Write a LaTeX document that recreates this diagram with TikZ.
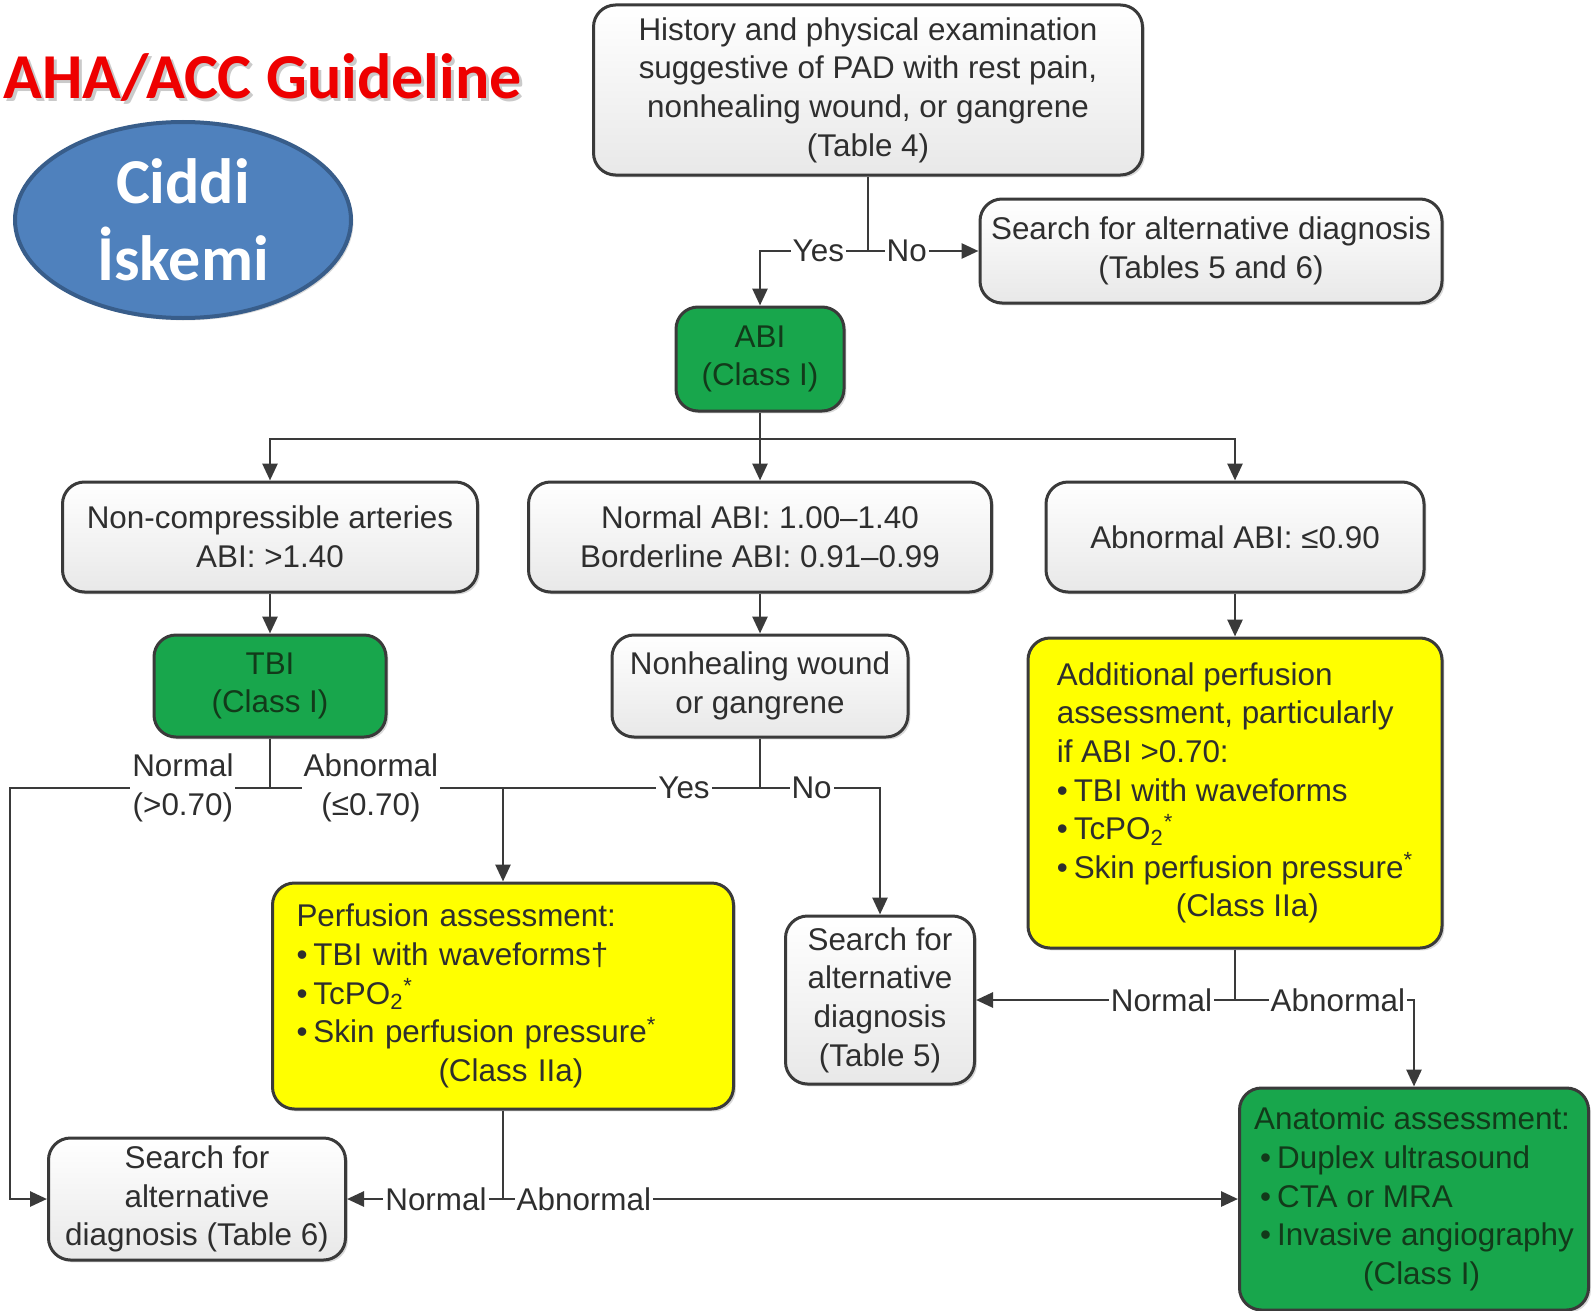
\documentclass[tikz,border=0pt]{standalone}
\usepackage{fontspec}
\setmainfont{Liberation Sans}
\newfontfamily\calibri{Carlito}
\usetikzlibrary{arrows.meta}
\usetikzlibrary{shapes}
\usetikzlibrary{shadows}
\definecolor{boxgreen}{RGB}{24,166,76}
\definecolor{greentext}{RGB}{18,58,26}
\definecolor{boxyellow}{RGB}{255,255,0}
\definecolor{linegray}{RGB}{58,58,58}
\definecolor{titlered}{RGB}{238,0,0}
\definecolor{ovalblue}{RGB}{79,129,189}
\definecolor{ovalrim}{RGB}{56,93,138}
\newcommand{\boxfont}{\fontsize{15.7}{19.3}\selectfont}
\tikzstyle{flowbox}=[rectangle,rounded corners=11pt,draw=linegray,line width=1.5pt,inner sep=0pt,drop shadow={shadow xshift=1.2pt,shadow yshift=-1.2pt,opacity=0.3},font=\boxfont,text=black!82]
\tikzstyle{whitebox}=[flowbox,top color=white,bottom color=black!9,align=center]
\tikzstyle{greenbox}=[flowbox,fill=boxgreen,text=greentext,align=center]
\tikzstyle{yellowbox}=[flowbox,fill=boxyellow,align=left]
\tikzstyle{lbl}=[fill=white,inner sep=1pt,font=\boxfont,text=black!82]
\tikzstyle{lbltwo}=[lbl,align=center]

\begin{document}
\begin{tikzpicture}[x=0.5pt,y=-0.5pt,line width=1.4pt,draw=linegray,>={Triangle[length=8.5pt,width=7.5pt]}]
    \useasboundingbox (0,0) rectangle (1595,1311);
    % title and oval
    \node[anchor=base west,inner sep=0pt,text=black!35,opacity=0.6,font=\calibri\bfseries\fontsize{32}{40}\selectfont] at (5,102) (titleshadow) {AHA/ACC Guideline};
    \node[anchor=base west,inner sep=0pt,text=titlered,font=\calibri\bfseries\fontsize{32}{40}\selectfont] at (2,99) (title) {AHA/ACC Guideline};
    \node[ellipse,draw=ovalrim,line width=2pt,fill=ovalblue,minimum width=168pt,minimum height=98pt,inner sep=0pt,text=white,align=center,font=\calibri\bfseries\fontsize{32}{38.5}\selectfont,drop shadow={shadow xshift=1.2pt,shadow yshift=-1.2pt,opacity=0.3}] at (183,220) (oval) {Ciddi\\İskemi};
    % boxes
    \node[whitebox,minimum width=274.5pt,minimum height=85pt] at (868,90) (hist) {History and physical examination\\suggestive of PAD with rest pain,\\nonhealing wound, or gangrene\\(Table 4)};
    \node[whitebox,minimum width=231pt,minimum height=52pt] at (1211,251) (alt1) {Search for alternative diagnosis\\(Tables 5 and 6)};
    \node[greenbox,minimum width=84pt,minimum height=52pt] at (760,359) (abi) {ABI\\(Class I)};
    \node[whitebox,minimum width=207.5pt,minimum height=55pt] at (270,537) (noncomp) {Non-compressible arteries\\ABI: >1.40};
    \node[whitebox,minimum width=231.5pt,minimum height=55pt] at (760,537) (normal) {Normal ABI: 1.00–1.40\\Borderline ABI: 0.91–0.99};
    \node[whitebox,minimum width=189pt,minimum height=55pt] at (1235,537) (abn) {Abnormal ABI: ≤0.90};
    \node[greenbox,minimum width=116pt,minimum height=51pt] at (270,686) (tbi) {TBI\\(Class I)};
    \node[whitebox,minimum width=148pt,minimum height=51pt] at (760,686) (nonheal) {Nonhealing wound\\or gangrene};
    \node[yellowbox,minimum width=207pt,minimum height=155pt] at (1235,793) (addperf) {Additional perfusion\\assessment, particularly\\if ABI >0.70:\\•\hspace{3pt}TBI with waveforms\\•\hspace{3pt}TcPO\textsubscript{2}\textsuperscript{*}\\•\hspace{3pt}Skin perfusion pressure\textsuperscript{*}\\\hspace*{59.5pt}(Class IIa)};
    \node[yellowbox,inner xsep=12pt,text width=206.5pt,minimum height=113pt] at (503,996) (perf) {Perfusion assessment:\\•\hspace{3pt}TBI with waveforms†\\•\hspace{3pt}TcPO\textsubscript{2}\textsuperscript{*}\\•\hspace{3pt}Skin perfusion pressure\textsuperscript{*}\\\hspace*{71pt}(Class IIa)};
    \node[whitebox,minimum width=94.5pt,minimum height=84pt] at (880,1000) (alt5) {Search for\\alternative\\diagnosis\\(Table 5)};
    \node[whitebox,minimum width=148.5pt,minimum height=61pt] at (197,1199) (alt6) {Search for\\alternative\\diagnosis (Table 6)};
    \node[greenbox,align=left,minimum width=174.5pt,minimum height=111pt] at (1414,1199) (anat) {Anatomic assessment:\\\hspace*{3pt}•\hspace{3pt}Duplex ultrasound\\\hspace*{3pt}•\hspace{3pt}CTA or MRA\\\hspace*{3pt}•\hspace{3pt}Invasive angiography\\\hspace*{54.5pt}(Class I)};
    % junctions
    \coordinate (jtop) at (868,251);
    \coordinate (jabi) at (760,439);
    \coordinate (jtbi) at (270,788);
    \coordinate (jnh) at (760,788);
    \coordinate (jleft) at (10,788);
    \coordinate (jperf) at (503,788);
    \coordinate (jadd) at (1235,1000);
    \coordinate (jperfb) at (503,1199);
    % connectors
    \draw (hist) -- (jtop);
    \draw[->] (jtop) -- node[lbl,pos=0.46] {Yes} (jtop -| abi) -- (abi);
    \draw[->] (jtop) -- node[lbl,pos=0.35] {No} (alt1);
    \draw (abi) -- (jabi);
    \draw[->] (jabi) -| (noncomp);
    \draw[->] (jabi) -- (normal);
    \draw[->] (jabi) -| (abn);
    \draw[->] (noncomp) -- (tbi);
    \draw[->] (normal) -- (nonheal);
    \draw[->] (abn) -- (addperf);
    \draw (tbi) -- (jtbi);
    \draw (nonheal) -- (jnh);
    \draw[->] (jtbi) -- node[lbltwo,pos=0.335] {Normal\\(>0.70)} (jleft) |- (alt6);
    \draw (jtbi) -- node[lbltwo,pos=0.206] {Abnormal\\(≤0.70)} node[lbl,pos=0.845] {Yes} (jnh);
    \draw[->] (jperf) -- (perf);
    \draw[->] (jnh) -- node[lbl,pos=0.43] {No} (jnh -| alt5) -- (alt5);
    \draw (addperf) -- (jadd);
    \draw[->] (jadd) -- node[lbl,pos=0.284] {Normal} (alt5);
    \draw[->] (jadd) -- node[lbl,pos=0.575] {Abnormal} (jadd -| anat) -- (anat);
    \draw (perf) -- (jperfb);
    \draw[->] (jperfb) -- node[lbl,pos=0.43] {Normal} (alt6);
    \draw[->] (jperfb) -- node[lbl,pos=0.11] {Abnormal} (anat);
\end{tikzpicture}
\end{document}
